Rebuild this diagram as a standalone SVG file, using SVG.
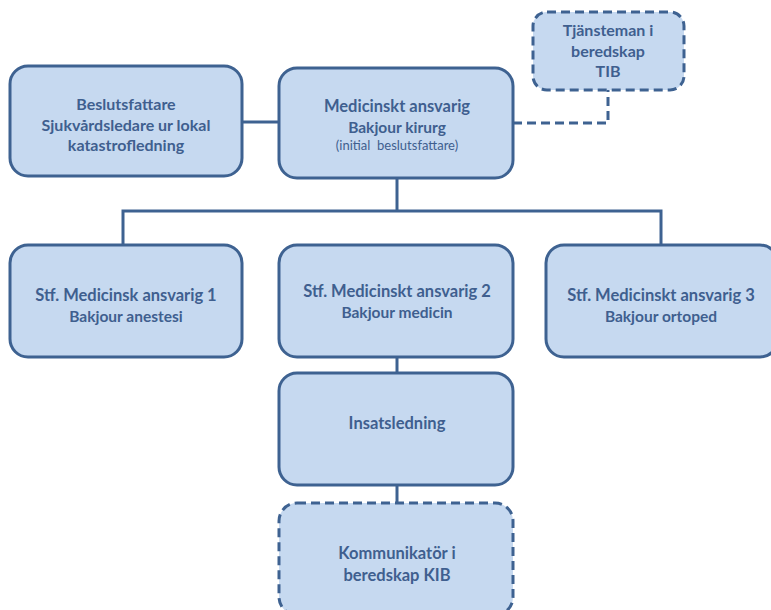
<svg xmlns="http://www.w3.org/2000/svg" width="771" height="610" viewBox="0 0 771 610">
<style>
.box{fill:#c6d9f0;stroke:#3e6291;stroke-width:3}
.dash{stroke-dasharray:9 5}
.ln{fill:none;stroke:#3e6291;stroke-width:3}
text{font-family:Lato,"Liberation Sans",sans-serif;font-weight:bold;fill:#3f5f8f;text-anchor:middle}
.h{font-size:16.5px}
.s{font-size:15.5px}
.b{font-size:16px}
.xs{font-size:13px;font-weight:normal;white-space:pre}
</style>
<rect width="771" height="610" fill="#fff"/>
<g id="connectors">
<line class="ln" x1="242" y1="122" x2="279" y2="122"/>
<polyline class="ln dash" points="513,123 608,123 608,90"/>
<polyline class="ln" points="397,178 397,211"/>
<polyline class="ln" points="123,245 123,211 661,211 661,245"/>
<line class="ln" x1="397" y1="357" x2="397" y2="373"/>
<line class="ln" x1="397" y1="485" x2="397" y2="503"/>
</g>
<g id="beslutsfattare">
<rect class="box" x="10" y="66" width="232" height="110" rx="18"/>
<text class="b" x="126" y="110">Beslutsfattare</text>
<text class="b" x="126" y="131">Sjukvårdsledare ur lokal</text>
<text class="b" x="126" y="151">katastrofledning</text>
</g>
<g id="medicinskt">
<rect class="box" x="279" y="68" width="234" height="110" rx="18"/>
<text class="h" x="397" y="112">Medicinskt ansvarig</text>
<text class="s" x="397" y="133">Bakjour kirurg</text>
<text class="xs" x="397" y="150">(initial  beslutsfattare)</text>
</g>
<g id="tib">
<rect class="box dash" x="533" y="12" width="151" height="78" rx="14"/>
<text class="b" x="608" y="36">Tjänsteman i</text>
<text class="b" x="608" y="57">beredskap</text>
<text class="b" x="608" y="77">TIB</text>
</g>
<g id="stf1">
<rect class="box" x="10" y="245" width="232" height="112" rx="18"/>
<text class="h" x="126" y="301">Stf. Medicinsk ansvarig 1</text>
<text class="s" x="126" y="322">Bakjour anestesi</text>
</g>
<g id="stf2">
<rect class="box" x="279" y="245" width="234" height="112" rx="18"/>
<text class="h" x="397" y="297">Stf. Medicinskt ansvarig 2</text>
<text class="s" x="397" y="318">Bakjour medicin</text>
</g>
<g id="stf3">
<rect class="box" x="546" y="245" width="232" height="112" rx="18"/>
<text class="h" x="661" y="301">Stf. Medicinskt ansvarig 3</text>
<text class="s" x="661" y="322">Bakjour ortoped</text>
</g>
<g id="insatsledning">
<rect class="box" x="279" y="373" width="234" height="112" rx="18"/>
<text class="h" x="397" y="429">Insatsledning</text>
</g>
<g id="kib">
<rect class="box dash" x="279" y="503" width="234" height="112" rx="18"/>
<text class="h" x="397" y="559">Kommunikatör i</text>
<text class="h" x="397" y="581">beredskap KIB</text>
</g>
</svg>
